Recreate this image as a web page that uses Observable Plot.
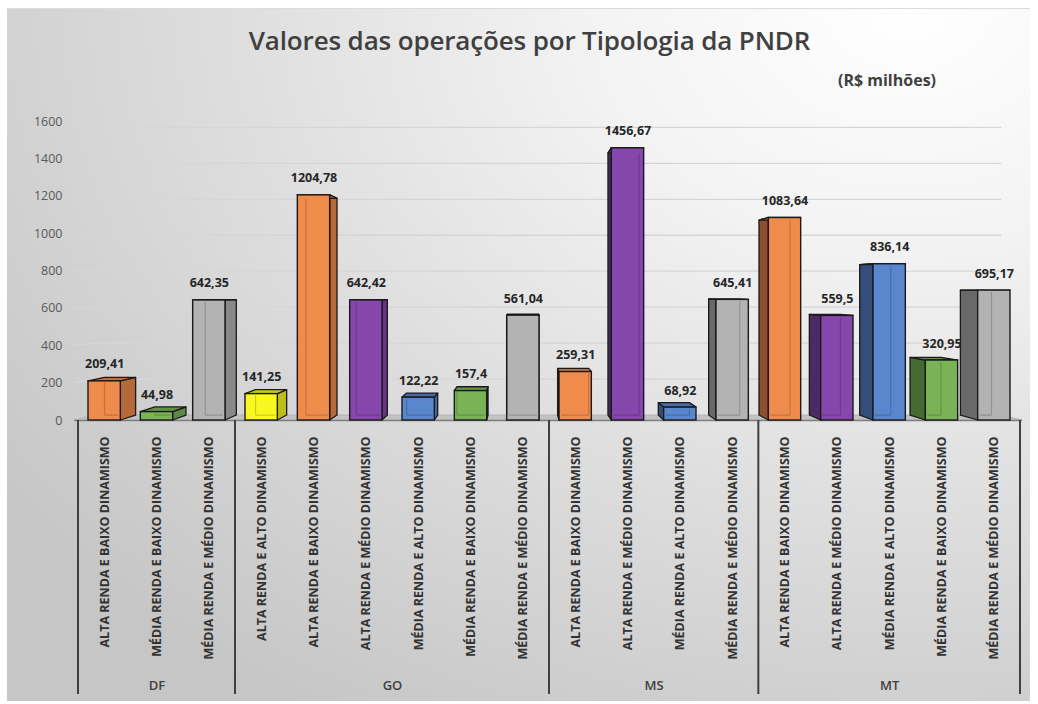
<!DOCTYPE html>
<html>
<head>
<meta charset="utf-8">
<script src="https://cdn.jsdelivr.net/npm/d3@7"></script>
<script src="https://cdn.jsdelivr.net/npm/@observablehq/plot@0.6"></script>
<style>
  html, body { margin: 0; padding: 0; background: #ffffff; }
  #card {
    position: absolute; left: 7px; top: 8px; width: 1023px; height: 692px;
    background: radial-gradient(ellipse 110% 120% at 88% 0%, #ffffff 0%, #f3f3f3 28%, #dedede 60%, #cdcdcd 88%, #c6c6c6 100%);
    border-top: 1px solid #dcdcdc;
    overflow: hidden;
    font-family: "Open Sans", sans-serif;
  }
  #title {
    position: absolute; left: 11px; width: 100%; top: 13px; text-align: center;
    font-size: 26px; font-weight: 600; color: #404040; letter-spacing: -0.15px;
  }
  #subtitle {
    position: absolute; right: 94px; top: 60px;
    font-size: 16px; font-weight: 700; color: #404040;
  }
  #chart { position: absolute; left: 0; top: 92px; }
</style>
</head>
<body>
<div id="card">
  <div id="title">Valores das operações por Tipologia da PNDR</div>
  <div id="subtitle">(R$ milhões)</div>
  <div id="chart"></div>
</div>
<script>
// ---- data ----
const states = ["DF", "GO", "MS", "MT"];
const barState = ["DF","DF","DF","GO","GO","GO","GO","GO","GO","MS","MS","MS","MS","MT","MT","MT","MT","MT"];
const barTipologia = [
  "ALTA RENDA E BAIXO DINAMISMO","MÉDIA RENDA E BAIXO DINAMISMO","MÉDIA RENDA E MÉDIO DINAMISMO",
  "ALTA RENDA E ALTO DINAMISMO","ALTA RENDA E BAIXO DINAMISMO","ALTA RENDA E MÉDIO DINAMISMO",
  "MÉDIA RENDA E ALTO DINAMISMO","MÉDIA RENDA E BAIXO DINAMISMO","MÉDIA RENDA E MÉDIO DINAMISMO",
  "ALTA RENDA E BAIXO DINAMISMO","ALTA RENDA E MÉDIO DINAMISMO","MÉDIA RENDA E ALTO DINAMISMO","MÉDIA RENDA E MÉDIO DINAMISMO",
  "ALTA RENDA E BAIXO DINAMISMO","ALTA RENDA E MÉDIO DINAMISMO","MÉDIA RENDA E ALTO DINAMISMO","MÉDIA RENDA E BAIXO DINAMISMO","MÉDIA RENDA E MÉDIO DINAMISMO"
];
const barValue = [209.41,44.98,642.35,141.25,1204.78,642.42,122.22,157.4,561.04,259.31,1456.67,68.92,645.41,1083.64,559.5,836.14,320.95,695.17];
const yTicks = [0,200,400,600,800,1000,1200,1400,1600];
const tipologias = [
  "ALTA RENDA E ALTO DINAMISMO","ALTA RENDA E BAIXO DINAMISMO","ALTA RENDA E MÉDIO DINAMISMO",
  "MÉDIA RENDA E ALTO DINAMISMO","MÉDIA RENDA E BAIXO DINAMISMO","MÉDIA RENDA E MÉDIO DINAMISMO"
];
const palette = ["#f8f820", "#ef8b4b", "#8547ab", "#5a86ce", "#7ab356", "#b3b3b3"];

// ---- derived tables ----
const rows = barValue.map((value, i) => ({i, state: barState[i], tipologia: barTipologia[i], value}));
const groups = states.map(state => {
  const idx = rows.filter(r => r.state === state).map(r => r.i);
  return {state, start: d3.min(idx), end: d3.max(idx) + 1};
});
const boundaries = [0, ...groups.map(g => g.end)];
const nBars = rows.length;

// perspective (vanishing point in data units, and depth shrink)
const persp = {vx: 8.5, vy: 700, s: 0.962};
const barInset = 10;

function projector(scales) {
  const hx = scales.x(persp.vx), hy = scales.y(persp.vy);
  return (px, py) => [hx + (px - hx) * persp.s, hy + (py - hy) * persp.s];
}

// backdrop: back-wall gridlines, floor, category frame
function backdrop(index, scales, values, dim) {
  const P = projector(scales);
  const g = d3.create("svg:g");
  const xa = scales.x(0), xb = scales.x(nBars), y0 = scales.y(0);
  for (const t of yTicks) {
    if (t === 0) continue;
    const yf = scales.y(t);
    const [bx0, by] = P(xa, yf);
    const [bx1] = P(xb, yf);
    g.append("path")
      .attr("d", `M${xa - 4},${yf}L${bx0},${by}L${bx1},${by}`)
      .attr("fill", "none").attr("stroke", "#d6d6d6").attr("stroke-width", 1.3);
  }
  const bl = P(xa, y0), br = P(xb, y0);
  g.append("path")
    .attr("d", `M${xa - 4},${y0}L${xb + 2},${y0}L${br[0]},${br[1]}L${bl[0]},${bl[1]}Z`)
    .attr("fill", "#c3c3c3").attr("stroke", "#b0b0b0").attr("stroke-width", 0.8);
  g.append("line")
    .attr("x1", xa - 4).attr("x2", xb + 2).attr("y1", y0 + 0.5).attr("y2", y0 + 0.5)
    .attr("stroke", "#7f7f7f").attr("stroke-width", 1.5);
  for (const b of boundaries) {
    g.append("line")
      .attr("x1", scales.x(b)).attr("x2", scales.x(b))
      .attr("y1", y0).attr("y2", dim.height - 7)
      .attr("stroke", "#404040").attr("stroke-width", 2);
  }
  return g.node();
}

// depth faces (side + top) of the 3D bars
function depthFaces(index, scales) {
  const P = projector(scales);
  const g = d3.create("svg:g");
  const hx = scales.x(persp.vx);
  for (const r of rows) {
    const L = scales.x(r.i) + barInset, R = scales.x(r.i + 1) - barInset;
    const T = scales.y(r.value), B = scales.y(0);
    const [bL, bT] = P(L, T), [bR] = P(R, T), [, bB] = P(L, B);
    const base = d3.color(scales.color(r.tipologia));
    const leftSide = (L + R) / 2 > hx;
    const side = leftSide
      ? [[L, T], [L, B], [bL, bB], [bL, bT]]
      : [[R, T], [R, B], [bR, bB], [bR, bT]];
    g.append("path")
      .attr("d", "M" + side.join("L") + "Z")
      .attr("fill", base.darker(leftSide ? 1.5 : 0.75).formatHex())
      .attr("stroke", "#1a1a1a").attr("stroke-width", 1.3).attr("stroke-linejoin", "round");
    const top = [[L, T], [R, T], [bR, bT], [bL, bT]];
    g.append("path")
      .attr("d", "M" + top.join("L") + "Z")
      .attr("fill", base.darker(0.6).formatHex())
      .attr("stroke", "#1a1a1a").attr("stroke-width", 1.3).attr("stroke-linejoin", "round");
  }
  return g.node();
}

// faint hidden back edges seen through the front face
function backEdges(index, scales) {
  const P = projector(scales);
  const g = d3.create("svg:g");
  const hx = scales.x(persp.vx);
  for (const r of rows) {
    const L = scales.x(r.i) + barInset, R = scales.x(r.i + 1) - barInset;
    const T = scales.y(r.value), B = scales.y(0);
    const [bL, bT] = P(L, T), [bR, bB] = P(R, B);
    const leftSide = (L + R) / 2 > hx;
    const ex = leftSide ? bR : bL;
    const yTop = Math.max(bT, T + 2);
    g.append("path")
      .attr("d", `M${ex},${yTop}L${ex},${bB}M${Math.max(L + 2, bL)},${bB}L${Math.min(R - 2, bR)},${bB}`)
      .attr("fill", "none").attr("stroke", "#000").attr("stroke-opacity", 0.18).attr("stroke-width", 1.2);
  }
  return g.node();
}

const fmt = v => String(v).replace(".", ",");

const chart = Plot.plot({
  width: 1023,
  height: 600,
  marginTop: 20,
  marginBottom: 281,
  marginLeft: 71,
  marginRight: 10,
  style: {background: "transparent", fontFamily: "Open Sans, sans-serif", overflow: "visible"},
  x: {domain: [0, nBars], axis: null},
  y: {domain: [0, 1600], axis: null},
  color: {domain: tipologias, range: palette},
  marks: [
    backdrop,
    Plot.axisY(yTicks, {tickSize: 0, tickPadding: 16, fontSize: 12.5, fill: "#595959", label: null, tickFormat: d => String(d)}),
    depthFaces,
    Plot.rectY(rows, {
      x1: d => d.i, x2: d => d.i + 1, y1: d => 0, y2: "value",
      insetLeft: barInset, insetRight: barInset,
      fill: "tipologia", stroke: "#1a1a1a", strokeWidth: 1.4
    }),
    backEdges,
    Plot.text(rows, {
      x: d => d.i + 0.5, y: "value", text: d => fmt(d.value),
      dy: -17, fontSize: 12.5, fontWeight: 700, fill: "#262626"
    }),
    Plot.text(rows, {
      x: d => d.i + 0.5, y: d => 0, text: "tipologia",
      rotate: -90, textAnchor: "end", dy: 16,
      fontSize: 12.5, fontWeight: 700, fill: "#333333"
    }),
    Plot.text(groups, {
      x: d => (d.start + d.end) / 2, y: d => 0, text: "state",
      dy: 265, fontSize: 13, fontWeight: 600, fill: "#404040"
    })
  ]
});
document.getElementById("chart").appendChild(chart);
</script>
</body>
</html>
